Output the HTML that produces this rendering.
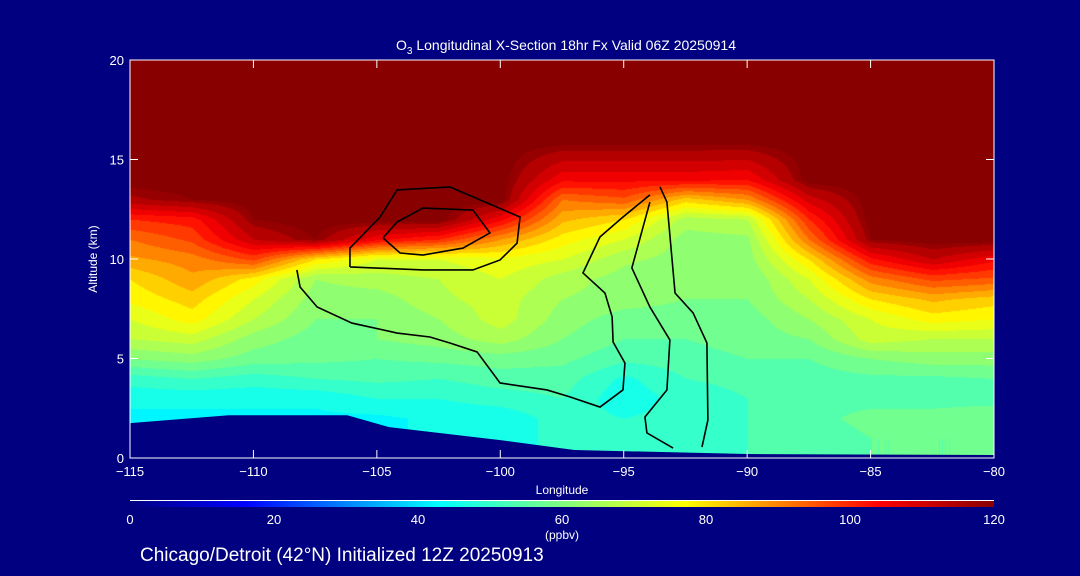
<!DOCTYPE html>
<html><head><meta charset="utf-8">
<style>
html,body{margin:0;padding:0;background:#000080;}
#wrap{position:relative;width:1080px;height:576px;background:#000080;overflow:hidden;font-family:"Liberation Sans",sans-serif;}
canvas{position:absolute;left:130px;top:60px;}
svg{position:absolute;left:0;top:0;}
text{fill:#fff;font-family:"Liberation Sans",sans-serif;}
</style></head>
<body>
<div id="wrap">
<canvas id="heat" width="864" height="398"></canvas>
<svg id="svg" width="1080" height="576"></svg>
</div>
<script>
const lons=[-115,-112.5,-110,-107.5,-105,-102.5,-100,-97.5,-95,-92.5,-90,-87.5,-85,-82.5,-80];
const alts=[1,2,3,4,5,6,7,8,9,10,11,12,13,14,16,19];
const a1 =[43,43,43,43,43,45,45,50,48,50,52,54,56,56,56];
const a2 =[43,43,43,43,43,45,45,50,48,50,52,55,57,57,58];
const a3 =[45,45,45,45,48,48,50,52,45,50,52,55,55,55,55];
const a4 =[50,52,50,52,53,52,54,54,47,52,53,54,55,55,56];
const a5 =[60,62,58,57,56,57,58,57,53,54,56,56,60,62,62];
const a6 =[68,70,62,58,60,62,66,60,56,56,58,60,70,68,68];
const a7 =[72,78,68,60,60,64,70,62,58,58,58,64,72,78,76];
const a8 =[77,82,72,62,62,67,70,64,62,60,60,68,80,85,82];
const a9 =[80,87,78,64,66,68,72,66,62,60,60,72,90,97,95];
const a10=[87,90,97,80,72,72,75,72,65,62,62,80,103,112,105];
const a11=[92,97,112,118,105,100,88,78,72,62,63,92,118,120,120];
const a12=[100,102,118,120,120,120,105,85,80,66,68,100,120,120,120];
const a13=[115,118,120,120,120,120,120,92,95,82,88,110,120,120,120];
const a14=[120,120,120,120,120,120,120,105,105,105,104,120,120,120,120];
const a16=[120,120,120,120,120,120,120,120,120,120,120,120,120,120,120];
const a19=[120,120,120,120,120,120,120,120,120,120,120,120,120,120,120];
const grid=[a1,a2,a3,a4,a5,a6,a7,a8,a9,a10,a11,a12,a13,a14,a16,a19];
const terrLon=[-115,-111,-106.2,-104.5,-100,-97,-90,-80];
const terrAlt=[1.75,2.15,2.15,1.55,0.9,0.4,0.2,0.15];
// contour lines (lon / alt)
const c10Lon=[-108.24,-108.11,-107.42,-106.01,-104.18,-102.85,-102.04,-100.94,-100.01,-98.11,-97.18,-95.96,-95.03,-94.95,-95.43,-95.47,-95.76,-96.65,-95.96,-95.03,-93.94];
const c10Alt=[9.45,8.59,7.59,6.78,6.28,6.08,5.78,5.33,3.77,3.42,3.07,2.56,3.42,4.77,5.83,7.09,8.29,9.30,11.11,12.11,13.22];
const c5Lon=[-93.94,-94.67,-93.94,-93.13,-93.25,-94.14,-94.06,-93.0];
const c5Alt=[12.86,9.55,7.59,5.93,3.42,2.06,1.26,0.50];
const c0Lon=[-93.53,-93.25,-92.92,-92.19,-91.63,-91.59,-91.83];
const c0Alt=[13.62,12.86,8.29,7.29,5.78,1.91,0.55];
const c30Lon=[-104.75,-104.18,-103.13,-101.11,-100.42,-101.51,-103.13,-104.06,-104.75];
const c30Alt=[11.06,11.86,12.56,12.46,11.31,10.55,10.20,10.30,11.06];
const c20Lon=[-106.09,-106.09,-104.87,-104.18,-102.04,-99.20,-99.32,-100.01,-101.11,-103.13,-106.09];
const c20Alt=[9.60,10.55,12.11,13.47,13.62,12.11,10.80,9.95,9.45,9.45,9.60];
const xTicks=[-115,-110,-105,-100,-95,-90,-85,-80];
const yTicks=[0,5,10,15,20];
const cbTicks=[0,20,40,60,80,100,120];

const X0=130,X1=994,Y0=458,Y1=60;
const xs=l=>X0+(l+115)/35*(X1-X0);
const ys=a=>Y0-a/20*(Y0-Y1);
const stops=[[0,[0,0,128]],[16,[0,0,255]],[43,[0,255,255]],[60,[128,255,128]],[77,[255,255,0]],[104,[255,0,0]],[120,[136,0,0]]];
function cmap(v){v=Math.max(0,Math.min(120,v));for(let i=1;i<stops.length;i++){if(v<=stops[i][0]){const a=stops[i-1],b=stops[i],t=(v-a[0])/(b[0]-a[0]);return a[1].map((c,k)=>Math.round(c+(b[1][k]-c)*t));}}return stops[stops.length-1][1];}
function idx(arr,v){if(v<=arr[0])return[0,0,0];if(v>=arr[arr.length-1])return[arr.length-1,arr.length-1,0];for(let i=0;i<arr.length-1;i++)if(v<=arr[i+1])return[i,i+1,(v-arr[i])/(arr[i+1]-arr[i])];}
function val(lon,alt){const[i0,i1,tx]=idx(lons,lon),[j0,j1,ty]=idx(alts,alt);
const a=grid[j0][i0]*(1-tx)+grid[j0][i1]*tx,b=grid[j1][i0]*(1-tx)+grid[j1][i1]*tx;return a*(1-ty)+b*ty;}
const ctx=document.getElementById('heat').getContext('2d');
const W=864,H=398,img=ctx.createImageData(W,H);
for(let py=0;py<H;py++){const alt=(H-py)/H*20;for(let px=0;px<W;px++){const lon=-115+px/W*35;let v=val(lon,alt);v=v>=118?120:Math.floor(v/4)*4+2;const c=cmap(v);const o=(py*W+px)*4;img.data[o]=c[0];img.data[o+1]=c[1];img.data[o+2]=c[2];img.data[o+3]=255;}}
ctx.putImageData(img,0,0);

const svg=document.getElementById('svg');const NS='http://www.w3.org/2000/svg';
function mk(tag,attrs,txt){const e=document.createElementNS(NS,tag);for(const k in attrs)e.setAttribute(k,attrs[k]);if(txt!==undefined)e.textContent=txt;svg.appendChild(e);return e;}
function contour(lo,al,name){const p=lo.map((l,i)=>xs(l)+','+ys(al[i])).join(' ');
 const e=mk('polyline',{points:p,fill:'none',stroke:'#000','stroke-width':1.6});
 
 }
contour(c10Lon,c10Alt,'contour-10');
contour(c5Lon,c5Alt,'contour-5');
contour(c0Lon,c0Alt,'contour-0');
contour(c30Lon,c30Alt,'contour-30');
contour(c20Lon,c20Alt,'contour-20');
let d='M'+xs(-115)+','+Y0;terrLon.forEach((l,i)=>{d+=' L'+xs(l)+','+ys(terrAlt[i]);});d+=' L'+X1+','+Y0+' Z';
const terr=mk('path',{d:d,fill:'#000080'});


const fr=mk('rect',{x:X0,y:Y1,width:X1-X0,height:Y0-Y1,fill:'none',stroke:'#fff','stroke-width':1});


xTicks.forEach(t=>{
 mk('line',{x1:xs(t),x2:xs(t),y1:Y0,y2:Y0-8,stroke:'#fff'});
 mk('line',{x1:xs(t),x2:xs(t),y1:Y1,y2:Y1+8,stroke:'#fff'});
 const tx=mk('text',{x:xs(t),y:Y0+18,'text-anchor':'middle','font-size':13},String(t).replace('-','\u2212'));
 
 
});
yTicks.forEach(t=>{
 mk('line',{x1:X0,x2:X0+8,y1:ys(t),y2:ys(t),stroke:'#fff'});
 mk('line',{x1:X1,x2:X1-8,y1:ys(t),y2:ys(t),stroke:'#fff'});
 const tx=mk('text',{x:X0-6,y:ys(t)+5,'text-anchor':'end','font-size':13},String(t));
 
 
});
const xt=mk('text',{x:562,y:494,'text-anchor':'middle','font-size':12},'Longitude');


const yt=mk('text',{x:97,y:259,'text-anchor':'middle','font-size':12,transform:'rotate(-90 97 259)'},'Altitude (km)');


const tt=mk('text',{x:566,y:50,'text-anchor':'middle','font-size':14});
tt.innerHTML='O<tspan font-size="10" dy="4">3</tspan><tspan dy="-4"> Longitudinal X-Section 18hr  Fx Valid 06Z 20250914</tspan>';


const defs=mk('defs',{});const lg=document.createElementNS(NS,'linearGradient');lg.setAttribute('id','cb');defs.appendChild(lg);
stops.forEach(s=>{const st=document.createElementNS(NS,'stop');st.setAttribute('offset',(s[0]/120*100)+'%');st.setAttribute('stop-color','rgb('+s[1].join(',')+')');lg.appendChild(st);});
mk('line',{x1:130,x2:994,y1:500.5,y2:500.5,stroke:'#fff'});
const cb=mk('rect',{x:130,y:501,width:864,height:6,fill:'url(#cb)'});


cbTicks.forEach(t=>{const tx=mk('text',{x:130+t/120*864,y:524,'text-anchor':'middle','font-size':13},String(t));
 
 });
const un=mk('text',{x:562,y:539,'text-anchor':'middle','font-size':12},'(ppbv)');


const sub=mk('text',{x:140,y:561,'font-size':19},'Chicago/Detroit (42°N) Initialized 12Z 20250913');


</script>
</body></html>
